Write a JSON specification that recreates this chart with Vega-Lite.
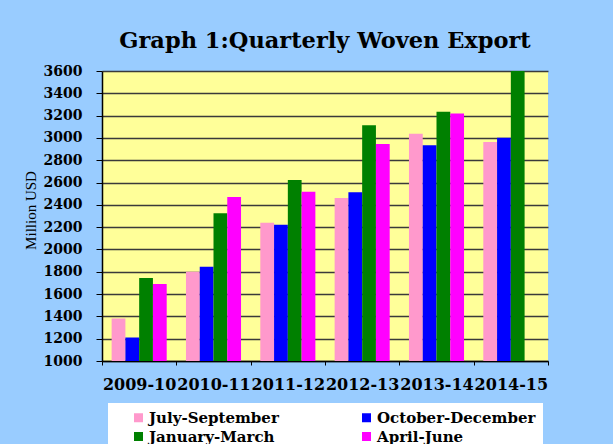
{
  "$schema": "https://vega.github.io/schema/vega-lite/v6.json",
  "autosize": {"type": "none"},
  "padding": {"left": 102, "top": 71, "right": 65, "bottom": 83},
  "width": 446,
  "height": 290,
  "background": "#99CCFF",
  "title": {
    "text": "Graph 1:Quarterly Woven Export",
    "font": "DejaVu Serif",
    "fontSize": 22.5,
    "fontWeight": "bold",
    "color": "#000000",
    "anchor": "middle",
    "offset": 12
  },
  "config": {
    "view": {"fill": "#FFFF99", "stroke": null}
  },
  "data": {
    "values": [
      {"year": "2009-10", "quarter": "July-September", "value": 1380},
      {"year": "2009-10", "quarter": "October-December", "value": 1210},
      {"year": "2009-10", "quarter": "January-March", "value": 1745},
      {"year": "2009-10", "quarter": "April-June", "value": 1690},
      {"year": "2010-11", "quarter": "July-September", "value": 1800},
      {"year": "2010-11", "quarter": "October-December", "value": 1845},
      {"year": "2010-11", "quarter": "January-March", "value": 2325},
      {"year": "2010-11", "quarter": "April-June", "value": 2470},
      {"year": "2011-12", "quarter": "July-September", "value": 2240},
      {"year": "2011-12", "quarter": "October-December", "value": 2222},
      {"year": "2011-12", "quarter": "January-March", "value": 2623},
      {"year": "2011-12", "quarter": "April-June", "value": 2518},
      {"year": "2012-13", "quarter": "July-September", "value": 2461},
      {"year": "2012-13", "quarter": "October-December", "value": 2512},
      {"year": "2012-13", "quarter": "January-March", "value": 3113},
      {"year": "2012-13", "quarter": "April-June", "value": 2946},
      {"year": "2013-14", "quarter": "July-September", "value": 3038},
      {"year": "2013-14", "quarter": "October-December", "value": 2934},
      {"year": "2013-14", "quarter": "January-March", "value": 3235},
      {"year": "2013-14", "quarter": "April-June", "value": 3220},
      {"year": "2014-15", "quarter": "July-September", "value": 2963},
      {"year": "2014-15", "quarter": "October-December", "value": 3002},
      {"year": "2014-15", "quarter": "January-March", "value": 3600}
    ]
  },
  "mark": {"type": "bar", "clip": true},
  "encoding": {
    "x": {
      "field": "year",
      "type": "nominal",
      "sort": null,
      "scale": {"paddingInner": 0, "paddingOuter": 0},
      "axis": {
        "title": null,
        "labelAngle": 0,
        "labelFont": "DejaVu Serif",
        "labelFontSize": 16,
        "labelFontWeight": "bold",
        "labelColor": "#000000",
        "labelPadding": 11,
        "labelOverlap": false,
        "labelLimit": 200,
        "tickBand": "extent",
        "tickSize": 4,
        "tickColor": "#000000",
        "domainColor": "#000000",
        "domainWidth": 1.5,
        "grid": false
      }
    },
    "xOffset": {
      "field": "quarter",
      "type": "nominal",
      "sort": ["July-September", "October-December", "January-March", "April-June"],
      "scale": {"domain": ["July-September", "October-December", "January-March", "April-June"], "paddingInner": 0, "paddingOuter": 0.7}
    },
    "y": {
      "field": "value",
      "type": "quantitative",
      "scale": {"domain": [1000, 3600], "nice": false, "zero": false},
      "axis": {
        "title": "Million USD",
        "titleFont": "Liberation Serif",
        "titleFontSize": 15,
        "titleFontWeight": "normal",
        "titleColor": "#000000",
        "titleX": -72,
        "titleY": 139,
        "titleAngle": -90,
        "titleAlign": "center",
        "titleBaseline": "middle",
        "values": [1000, 1200, 1400, 1600, 1800, 2000, 2200, 2400, 2600, 2800, 3000, 3200, 3400, 3600],
        "format": "d",
        "labelFont": "DejaVu Serif",
        "labelFontSize": 14,
        "labelFontWeight": "bold",
        "labelColor": "#000000",
        "labelPadding": 14,
        "tickSize": 6,
        "tickColor": "#000000",
        "domainColor": "#000000",
        "domainWidth": 1.5,
        "grid": true,
        "gridColor": "#3a3a3a",
        "gridWidth": 1.5
      }
    },
    "color": {
      "field": "quarter",
      "type": "nominal",
      "scale": {
        "domain": ["July-September", "October-December", "January-March", "April-June"],
        "range": ["#FF99CC", "#0000FF", "#008000", "#FF00FF"]
      },
      "legend": {
        "orient": "none",
        "legendX": 6,
        "legendY": 332,
        "direction": "horizontal",
        "columns": 2,
        "title": "\u00a0",
        "titleOrient": "left",
        "titlePadding": 16,
        "padding": 7,
        "fillColor": "#FFFFFF",
        "symbolType": "square",
        "symbolSize": 81,
        "symbolStrokeWidth": 0,
        "labelFont": "DejaVu Serif",
        "labelFontSize": 15,
        "labelFontWeight": "bold",
        "labelColor": "#000000",
        "labelOffset": 3,
        "labelLimit": 300,
        "columnPadding": 80,
        "rowPadding": 3
      }
    }
  }
}
